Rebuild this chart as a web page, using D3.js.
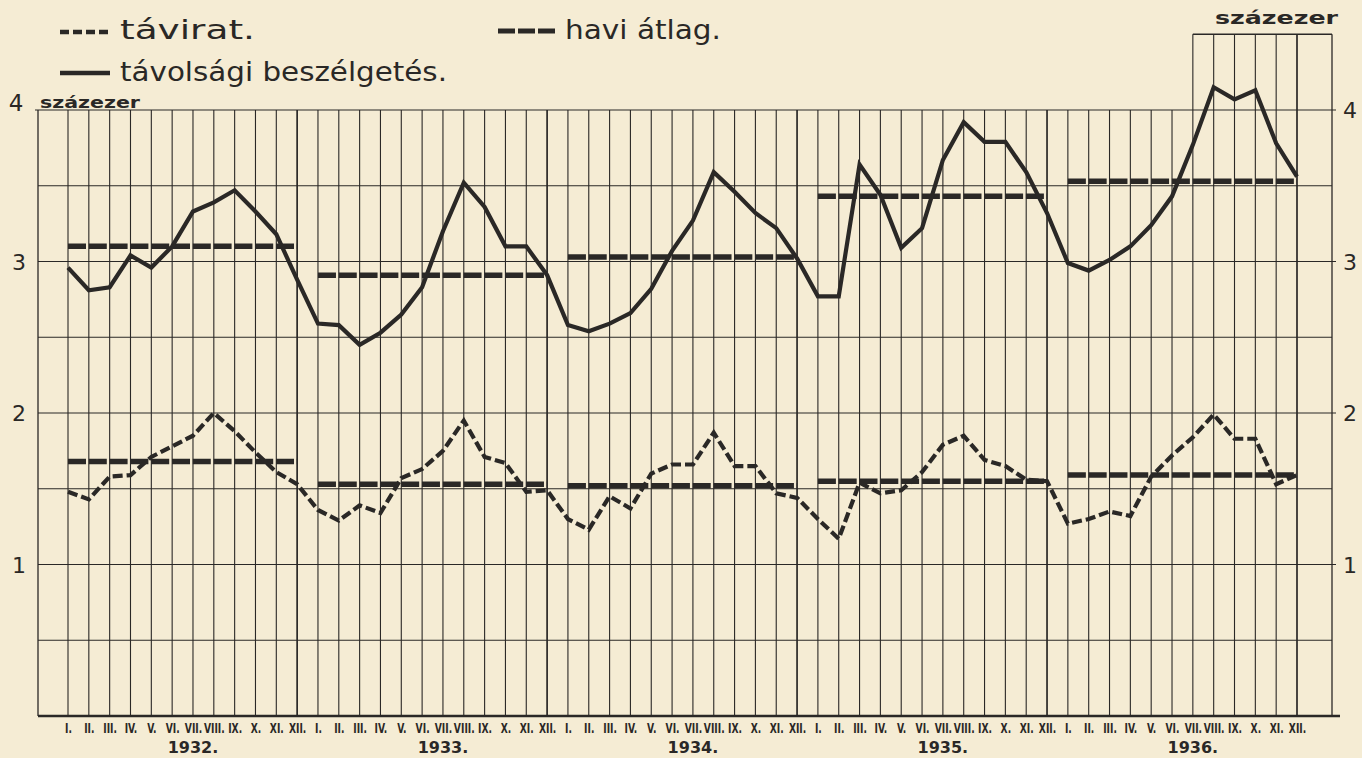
<!DOCTYPE html>
<html><head><meta charset="utf-8">
<script src="https://cdn.jsdelivr.net/npm/d3@7"></script>
<style>
html,body{margin:0;padding:0;background:#f5ecd4;}
svg{display:block;}
</style></head>
<body><svg id="c" width="1362" height="758"></svg>
<script>
const monthLabels = ["I.","II.","III.","IV.","V.","VI.","VII.","VIII.","IX.","X.","XI.","XII."];
const yearLabels = ["1932.","1933.","1934.","1935.","1936."];
const phone = [
 2.96,2.81,2.83,3.04,2.96,3.10,3.33,3.39,3.47,3.33,3.18,2.88,
 2.59,2.58,2.45,2.53,2.65,2.83,3.20,3.52,3.36,3.10,3.10,2.91,
 2.58,2.54,2.59,2.66,2.82,3.07,3.27,3.59,3.46,3.32,3.22,3.02,
 2.77,2.77,3.64,3.44,3.09,3.22,3.67,3.92,3.79,3.79,3.59,3.32,
 2.99,2.94,3.01,3.10,3.24,3.43,3.77,4.15,4.07,4.13,3.78,3.56];
const telegraph = [
 1.48,1.43,1.58,1.59,1.71,1.78,1.85,2.00,1.88,1.74,1.61,1.53,
 1.36,1.29,1.39,1.34,1.57,1.63,1.75,1.95,1.71,1.67,1.48,1.49,
 1.30,1.23,1.45,1.37,1.60,1.66,1.66,1.87,1.65,1.65,1.47,1.44,
 1.30,1.17,1.54,1.47,1.49,1.61,1.79,1.85,1.69,1.65,1.56,1.55,
 1.27,1.30,1.35,1.32,1.58,1.72,1.84,1.99,1.83,1.83,1.53,1.59];
const phoneMean = [3.10,2.91,3.03,3.43,3.53];
const telegraphMean = [1.68,1.53,1.52,1.55,1.59];
const yTicks = [1,2,3,4];
const gridValues = [0.5,1,1.5,2,2.5,3,3.5,4];
const legendItems = ["távirat.","távolsági beszélgetés.","havi átlag."];
const unitLabel = "százezer";

const ink = "#2a2826";
const svg = d3.select("#c");
const N = phone.length;
const x = d3.scaleLinear().domain([0, N-1]).range([68, 1297]);
const y = d3.scaleLinear().domain([0, 4]).range([716, 110]);
const left = 38, right = 1332;

// horizontal grid
svg.append("g").selectAll("line").data(gridValues).join("line")
  .attr("x1", d => d===4 ? left-3 : left).attr("x2", d => Number.isInteger(d) ? right+4 : right)
  .attr("y1", d => y(d)).attr("y2", d => y(d))
  .attr("stroke", ink).attr("stroke-width", 1.1);

// vertical grid (months)
svg.append("g").selectAll("line").data(d3.range(N)).join("line")
  .attr("x1", d => x(d)).attr("x2", d => x(d))
  .attr("y1", d => (d >= 54 ? y(4.5) : y(4))).attr("y2", y(0))
  .attr("stroke", ink).attr("stroke-width", d => d % 12 === 11 ? 1.7 : 1.1);

// borders and top box
svg.append("line").attr("x1", left).attr("x2", left).attr("y1", y(4)).attr("y2", y(0)).attr("stroke", ink).attr("stroke-width", 1.3);
svg.append("line").attr("x1", right).attr("x2", right).attr("y1", y(4.5)).attr("y2", y(0)).attr("stroke", ink).attr("stroke-width", 1.3);
svg.append("line").attr("x1", x(54)).attr("x2", right).attr("y1", y(4.5)).attr("y2", y(4.5)).attr("stroke", ink).attr("stroke-width", 1.3);
svg.append("line").attr("x1", left).attr("x2", right + 8).attr("y1", y(0)).attr("y2", y(0)).attr("stroke", ink).attr("stroke-width", 2.4);

// month axis
const ax = d3.axisBottom(x).tickValues(d3.range(N)).tickSize(0).tickPadding(6)
  .tickFormat(i => monthLabels[i % 12]);
const gax = svg.append("g").attr("transform", `translate(0,${y(0)})`).call(ax);
gax.select(".domain").remove();
gax.selectAll("text").attr("font-family", "'Liberation Sans Narrow','DejaVu Sans Condensed',sans-serif")
  .attr("font-size", 12).attr("font-weight", "bold").attr("fill", ink)
  .attr("transform", "scale(0.85,1.2)");

// year labels
svg.append("g").selectAll("text").data(yearLabels).join("text")
  .attr("x", (d,i) => x(i*12 + 6)).attr("y", 753)
  .attr("text-anchor", "middle").attr("font-family", "'DejaVu Sans',sans-serif")
  .attr("font-size", 16).attr("font-weight", "bold").attr("fill", ink).text(d => d);

// y tick labels
const lblFont = "'DejaVu Sans',sans-serif";
svg.append("g").selectAll("text").data(yTicks.filter(d => d < 4)).join("text")
  .attr("x", 19).attr("y", d => y(d) + 8).attr("text-anchor", "middle")
  .attr("font-family", lblFont).attr("font-size", 22).attr("fill", ink).text(d => d);
svg.append("text").attr("x", 16).attr("y", y(4) + 1).attr("text-anchor", "middle")
  .attr("font-family", lblFont).attr("font-size", 23).attr("fill", ink).text(4);
svg.append("g").selectAll("text").data(yTicks).join("text")
  .attr("x", 1350).attr("y", d => y(d) + 8).attr("text-anchor", "middle")
  .attr("font-family", lblFont).attr("font-size", 22).attr("fill", ink).text(d => d);

// unit labels
svg.append("text").attr("x", 40).attr("y", y(4) - 2).attr("font-family", lblFont)
  .attr("font-size", 15).attr("font-weight", "bold").attr("fill", ink)
  .attr("textLength", 100).attr("lengthAdjust", "spacingAndGlyphs").text(unitLabel);
svg.append("text").attr("x", 1215).attr("y", 24).attr("font-family", lblFont)
  .attr("font-size", 17).attr("font-weight", "bold").attr("fill", ink)
  .attr("textLength", 123).attr("lengthAdjust", "spacingAndGlyphs").text(unitLabel);

// legend
const legFont = "'DejaVu Sans',sans-serif";
svg.append("line").attr("x1", 60).attr("x2", 109).attr("y1", 32).attr("y2", 32)
  .attr("stroke", ink).attr("stroke-width", 4.5).attr("stroke-dasharray", "9,4");
svg.append("text").attr("x", 120).attr("y", 39).attr("font-family", legFont).attr("font-size", 26)
  .attr("fill", ink).attr("textLength", 135).attr("lengthAdjust", "spacingAndGlyphs").text(legendItems[0]);
svg.append("line").attr("x1", 60).attr("x2", 110).attr("y1", 73).attr("y2", 73)
  .attr("stroke", ink).attr("stroke-width", 4.5);
svg.append("text").attr("x", 120).attr("y", 81).attr("font-family", legFont).attr("font-size", 26)
  .attr("fill", ink).attr("textLength", 327).attr("lengthAdjust", "spacingAndGlyphs").text(legendItems[1]);
svg.append("line").attr("x1", 498).attr("x2", 556).attr("y1", 31).attr("y2", 31)
  .attr("stroke", ink).attr("stroke-width", 5).attr("stroke-dasharray", "17,3");
svg.append("text").attr("x", 565).attr("y", 39).attr("font-family", legFont).attr("font-size", 26)
  .attr("fill", ink).attr("textLength", 156).attr("lengthAdjust", "spacingAndGlyphs").text(legendItems[2]);

// mean lines
const yearIdx = d3.range(yearLabels.length);
svg.append("g").selectAll("line").data(yearIdx).join("line")
  .attr("x1", i => x(i*12)).attr("x2", i => x(i*12+11))
  .attr("y1", i => y(phoneMean[i])).attr("y2", i => y(phoneMean[i]))
  .attr("stroke", ink).attr("stroke-width", 5.5).attr("stroke-dasharray", "18,2.8");
svg.append("g").selectAll("line").data(yearIdx).join("line")
  .attr("x1", i => x(i*12)).attr("x2", i => x(i*12+11))
  .attr("y1", i => y(telegraphMean[i])).attr("y2", i => y(telegraphMean[i]))
  .attr("stroke", ink).attr("stroke-width", 5.5).attr("stroke-dasharray", "18,2.8");

// series
const line = d3.line().x((d,i) => x(i)).y(d => y(d));
svg.append("path").datum(phone).attr("d", line).attr("fill", "none")
  .attr("stroke", ink).attr("stroke-width", 4.2).attr("stroke-linejoin", "miter");
svg.append("path").datum(telegraph).attr("d", line).attr("fill", "none")
  .attr("stroke", ink).attr("stroke-width", 4.2).attr("stroke-dasharray", "10,4")
  .attr("stroke-linejoin", "miter");
</script></body></html>
